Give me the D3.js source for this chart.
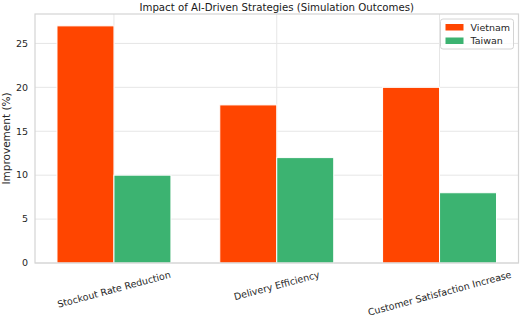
<!DOCTYPE html>
<html>
<head>
<meta charset="utf-8">
<script src="https://cdn.jsdelivr.net/npm/d3@7"></script>
<style>
  html, body { margin: 0; padding: 0; background: #fff; }
  svg { display: block; font-family: "DejaVu Sans", sans-serif; }
  .grid line { stroke: #e6e6e6; stroke-width: 1; }
</style>
</head>
<body>
<svg id="chart" width="520" height="317"></svg>
<script>
// data
const categories = ["Stockout Rate Reduction", "Delivery Efficiency", "Customer Satisfaction Increase"];
const seriesNames = ["Vietnam", "Taiwan"];
const vietnam = [27, 18, 20];
const taiwan = [10, 12, 8];
const yTicks = [0, 5, 10, 15, 20, 25];
const colors = { Vietnam: "#ff4500", Taiwan: "#3cb371" };

const W = 520, H = 317;
const m = { t: 14, r: 1.5, b: 54, l: 35 };
const iw = W - m.l - m.r, ih = H - m.t - m.b;
const svg = d3.select("#chart");
const g = svg.append("g").attr("transform", `translate(${m.l},${m.t})`);

// numeric x like matplotlib: groups at 0,1,2, bar width 0.35
const bw = 0.35;
const x = d3.scaleLinear().domain([-0.485, 2.485]).range([0, iw]);
const y = d3.scaleLinear().domain([0, 28.35]).range([ih, 0]);

// grid
const grid = g.append("g").attr("class", "grid");
grid.selectAll("line.h").data(yTicks).join("line").attr("class", "h")
  .attr("x1", 0).attr("x2", iw).attr("y1", d => y(d)).attr("y2", d => y(d));
grid.selectAll("line.v").data(categories).join("line").attr("class", "v")
  .attr("y1", 0).attr("y2", ih).attr("x1", (d, i) => x(i)).attr("x2", (d, i) => x(i));

// bars
const rows = [
  { name: "Vietnam", vals: vietnam, off: -bw / 2 },
  { name: "Taiwan", vals: taiwan, off: bw / 2 },
];
rows.forEach(s => {
  g.append("g").selectAll("rect").data(s.vals).join("rect")
    .attr("x", (d, i) => x(i + s.off - bw / 2))
    .attr("width", x(bw) - x(0))
    .attr("y", d => y(d))
    .attr("height", d => y(0) - y(d))
    .attr("fill", colors[s.name])
    .attr("stroke", "#fff").attr("stroke-width", 1);
});

// frame
g.append("rect").attr("x", 0).attr("y", 0).attr("width", iw).attr("height", ih)
  .attr("fill", "none").attr("stroke", "#d4d4d4").attr("stroke-width", 1.2);

// y axis labels
g.selectAll("text.yt").data(yTicks).join("text").attr("class", "yt")
  .attr("x", -7).attr("y", d => y(d)).attr("dy", "0.35em")
  .attr("text-anchor", "end").attr("font-size", 9.5).attr("fill", "#262626")
  .text(d => d);

g.append("text").attr("transform", "rotate(-90)")
  .attr("x", -ih / 2).attr("y", -25.5).attr("text-anchor", "middle")
  .attr("font-size", 10.5).attr("fill", "#262626").text("Improvement (%)");

// x tick labels rotated 15deg, centred on the tick, bbox top just under the axis
const ang = 15 * Math.PI / 180;
const fs = 9.5;
categories.forEach((c, i) => {
  const t = g.append("text").attr("font-size", fs).attr("fill", "#262626")
    .attr("text-anchor", "middle").attr("dominant-baseline", "central").text(c);
  const L = t.node().getComputedTextLength();
  const bh = L * Math.sin(ang) + fs * 1.1 * Math.cos(ang);
  const cy = ih + 6 + bh / 2;
  t.attr("transform", `translate(${x(i)},${cy}) rotate(-15)`);
});

// title, sized so it spans roughly 275px like the reference
const title = svg.append("text").attr("x", m.l + iw / 2).attr("y", 10.5).attr("text-anchor", "middle")
  .attr("font-size", 11).attr("fill", "#1a1a1a")
  .text("Impact of AI-Driven Strategies (Simulation Outcomes)");
const tl = title.node().getComputedTextLength();
title.attr("font-size", 11 * 275 / tl);

// legend
const lg = g.append("g").attr("transform", `translate(${iw - 78},5)`);
lg.append("rect").attr("width", 73).attr("height", 30).attr("rx", 2.5)
  .attr("fill", "#fff").attr("fill-opacity", 0.8).attr("stroke", "#d4d4d4");
seriesNames.forEach((n, i) => {
  lg.append("rect").attr("x", 5).attr("y", 5 + i * 13.5).attr("width", 18).attr("height", 6.5)
    .attr("fill", colors[n]);
  lg.append("text").attr("x", 30).attr("y", 8.5 + i * 13.5).attr("dy", "0.35em")
    .attr("font-size", 9.5).attr("fill", "#262626").text(n);
});
</script>
</body>
</html>
